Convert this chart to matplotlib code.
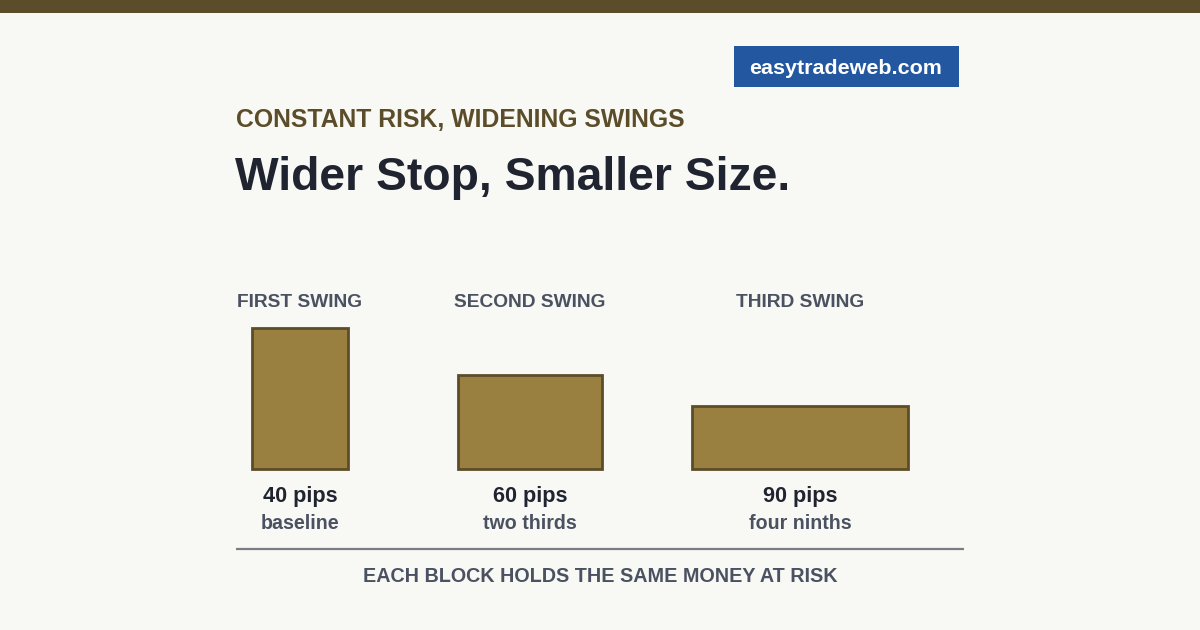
import matplotlib
matplotlib.use("Agg")
import matplotlib.pyplot as plt
from matplotlib.patches import Rectangle

plt.rcParams['font.family'] = ['Liberation Sans', 'DejaVu Sans']

# data
swings = ['FIRST SWING', 'SECOND SWING', 'THIRD SWING']
stop_pips = [40, 60, 90]
size_frac = [1.0, 2 / 3, 4 / 9]
notes = ['baseline', 'two thirds', 'four ninths']

# layout (pixels)
centers = [300, 530, 800]
base_y = 468.5
px_per_pip = 2.4
full_h = 141
PT = 0.72  # px -> pt at dpi 100

bg = '#f8f8f4'
brown = '#5c4d2a'
fill = '#9a8040'
grey = '#4a5160'
ink = '#1f2430'

fig = plt.figure(figsize=(12, 6.3), dpi=100, facecolor=bg)
ax = fig.add_axes([0, 0, 1, 1])
ax.set_xlim(0, 1200)
ax.set_ylim(630, 0)
ax.axis('off')
ax.set_facecolor(bg)

# top band
ax.add_patch(Rectangle((0, 0), 1200, 13, color=brown, lw=0))

# site badge
ax.add_patch(Rectangle((734, 46), 225, 41, color='#2358a0', lw=0))
ax.text(846, 74, 'easytradeweb.com', color='white', fontsize=21.5 * PT,
        fontweight='bold', ha='center', va='baseline')

ax.text(236, 127, 'CONSTANT RISK, WIDENING SWINGS', color=brown,
        fontsize=24.8 * PT, fontweight='bold', ha='left', va='baseline')
ax.text(235, 190, 'Wider Stop, Smaller Size.', color=ink,
        fontsize=46.3 * PT, fontweight='bold', ha='left', va='baseline')

for name, pips, frac, note, cx in zip(swings, stop_pips, size_frac, notes, centers):
    w = pips * px_per_pip
    h = frac * full_h
    ax.add_patch(Rectangle((cx - w / 2, base_y - h), w, h, facecolor=fill,
                           edgecolor=brown, lw=2.0))
    ax.text(cx, 307, name, color=grey, fontsize=19.1 * PT, fontweight='bold',
            ha='center', va='baseline')
    ax.text(cx, 502, f'{pips} pips', color=ink, fontsize=21.6 * PT,
            fontweight='bold', ha='center', va='baseline')
    ax.text(cx, 529, note, color=grey, fontsize=19.6 * PT,
            fontweight='bold', ha='center', va='baseline')

ax.plot([236, 964], [548.5, 548.5], color='#7a7d85', lw=1.6, solid_capstyle='butt')
ax.text(600, 582, 'EACH BLOCK HOLDS THE SAME MONEY AT RISK', color=grey,
        fontsize=19.8 * PT, fontweight='bold', ha='center', va='baseline')

fig.savefig('out.png', dpi=100, facecolor=bg)
